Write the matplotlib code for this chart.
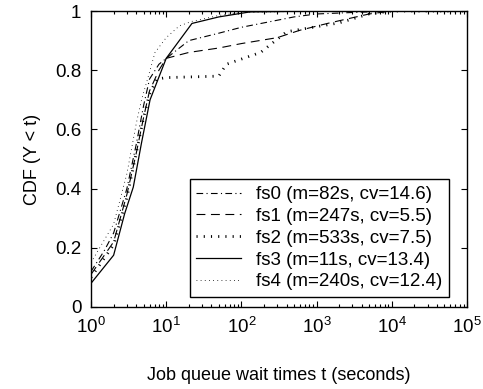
import matplotlib
matplotlib.use("Agg")
import matplotlib.pyplot as plt

plt.rcParams['font.family'] = ['Liberation Sans', 'DejaVu Sans']
plt.rcParams['mathtext.fontset'] = 'custom'
plt.rcParams['mathtext.rm'] = 'Liberation Sans'
plt.rcParams['mathtext.it'] = 'Liberation Sans'

labels = ["fs0 (m=82s, cv=14.6)", "fs1 (m=247s, cv=5.5)", "fs2 (m=533s, cv=7.5)",
          "fs3 (m=11s, cv=13.4)", "fs4 (m=240s, cv=12.4)"]

# fs0 - dash-dot
fs0_t = [1, 1.5, 2, 3, 4, 5, 6, 8, 10, 20, 50, 100, 200, 500, 1000, 3000, 10000, 100000]
fs0_y = [0.12, 0.19, 0.25, 0.40, 0.55, 0.68, 0.77, 0.82, 0.84, 0.90, 0.925, 0.945, 0.96, 0.98, 0.99, 0.995, 1.0, 1.0]

# fs1 - dashed
fs1_t = [1, 2, 3, 4, 5, 6, 8, 10, 20, 50, 100, 300, 600, 1500, 5000, 10000, 100000]
fs1_y = [0.11, 0.22, 0.38, 0.52, 0.64, 0.73, 0.80, 0.84, 0.86, 0.875, 0.89, 0.91, 0.935, 0.96, 0.99, 1.0, 1.0]

# fs2 - dotted (heavy)
fs2_t = [1, 2, 3, 4, 5, 6, 7.5, 10, 50, 63, 180, 400, 2000, 5000, 10000, 100000]
fs2_y = [0.10, 0.21, 0.37, 0.52, 0.64, 0.72, 0.77, 0.775, 0.78, 0.82, 0.86, 0.93, 0.96, 0.99, 1.0, 1.0]

# fs3 - solid
fs3_t = [1, 2, 2.8, 3.65, 4.7, 6.1, 10, 22, 50, 130, 1000, 100000]
fs3_y = [0.08, 0.175, 0.315, 0.405, 0.555, 0.70, 0.84, 0.958, 0.98, 0.997, 1.0, 1.0]

# fs4 - dotted (fine)
fs4_t = [1, 2, 3, 4, 4.7, 5.8, 7.1, 10, 15, 22, 50, 100, 1000, 100000]
fs4_y = [0.15, 0.28, 0.45, 0.62, 0.70, 0.78, 0.86, 0.91, 0.95, 0.965, 0.985, 0.995, 1.0, 1.0]

fig = plt.figure(figsize=(4.83, 3.89), dpi=100)
ax = fig.add_axes([0.1884, 0.2108, 0.7785, 0.7609])

ax.plot(fs0_t, fs0_y, color='black', lw=0.8, dashes=(6, 3, 1, 3), label=labels[0])
ax.plot(fs1_t, fs1_y, color='black', lw=0.8, dashes=(8, 5), label=labels[1])
ax.plot(fs2_t, fs2_y, color='black', lw=2.0, dashes=(0.4, 2.2), dash_capstyle='butt', label=labels[2])
ax.plot(fs3_t, fs3_y, color='black', lw=0.9, label=labels[3])
ax.plot(fs4_t, fs4_y, color='black', lw=0.6, dashes=(1, 4), label=labels[4])

ax.set_xscale('log')
ax.set_xlim(1, 1e5)
ax.set_ylim(0, 1)
ax.set_yticks([0, 0.2, 0.4, 0.6, 0.8, 1])
ax.set_yticklabels(['0', '0.2', '0.4', '0.6', '0.8', '1'])
ax.tick_params(which='both', direction='in', top=True, right=True, labelsize=13.5, width=0.8)
ax.tick_params(which='major', length=4, pad=7)
ax.tick_params(which='minor', length=2)
for s in ax.spines.values():
    s.set_linewidth(1.0)

ax.set_xlabel('Job queue wait times t (seconds)', fontsize=13, labelpad=22)
ax.set_ylabel('CDF (Y < t)', fontsize=13, labelpad=10)

leg = ax.legend(loc='lower right', bbox_to_anchor=(0.952, 0.034), fontsize=13.5,
                fancybox=False, framealpha=1, edgecolor='black', handlelength=2.4,
                labelspacing=0.25, borderpad=0.35, handletextpad=0.8, borderaxespad=0)
leg.get_frame().set_linewidth(1.0)

fig.savefig('out.png', dpi=100)
